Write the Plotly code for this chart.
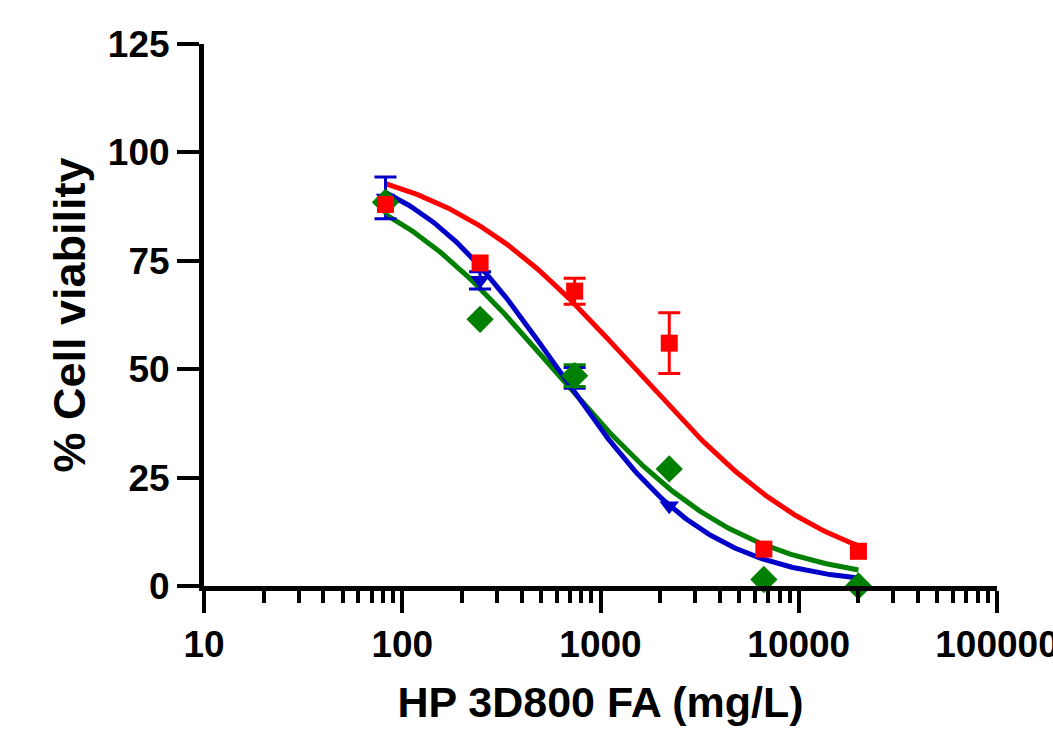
import numpy as np
import plotly.graph_objects as go

# Concentrations (mg/L), 3-fold dilution series
conc = [82.3, 246.9, 740.7, 2222.2, 6666.7, 20000]

# Mean % viability per series (error bars smaller than the symbol are not drawn)
red_y = [88.0, 74.5, 68.0, 56.0, 8.5, 8.0]
red_err = [0.0, 0.0, 3.0, 7.0, 0.0, 0.0]
blue_y = [89.5, 70.5, 48.0, 18.5, 1.0, 0.0]
blue_err = [4.8, 2.0, 2.4, 0.0, 0.0, 0.0]
green_y = [88.5, 61.5, 48.5, 27.0, 1.5, 0.0]
green_err = [0.0, 0.0, 2.5, 0.0, 0.0, 0.0]

# 4-parameter logistic fit parameters: top, bottom, IC50, Hill slope
red_fit = (100.0, 0.0, 1500.0, 0.88)
blue_fit = (100.0, 0.0, 610.0, 1.14)
green_fit = (100.0, 0.0, 578.0, 0.92)

x_ticks = [10, 100, 1000, 10000, 100000]
x_tick_text = ["10", "100", "1000", "10000", "100000"]
y_ticks = [0, 25, 50, 75, 100, 125]

RED = "#FF0000"
BLUE = "#0000C8"
GREEN = "#008000"
FONT = "Liberation Sans, Arial, sans-serif"


def logistic(x, p):
    top, bottom, ic50, h = p
    return bottom + (top - bottom) / (1 + (x / ic50) ** h)


xfit = np.logspace(np.log10(conc[0]), np.log10(conc[-1]), 200)

fig = go.Figure()
for p, col in [(red_fit, RED), (green_fit, GREEN), (blue_fit, BLUE)]:
    fig.add_trace(go.Scatter(x=xfit, y=logistic(xfit, p), mode="lines",
                             line=dict(color=col, width=5), cliponaxis=False,
                             hoverinfo="skip"))

series = [
    (blue_y, blue_err, BLUE, "triangle-down", 17),
    (green_y, green_err, GREEN, "diamond", 21),
    (red_y, red_err, RED, "square", 17),
]
for ys, es, col, sym, sz in series:
    # only the points whose error bar is larger than the symbol get one
    ex = [x for x, e in zip(conc, es) if e > 0]
    ey = [y for y, e in zip(ys, es) if e > 0]
    ee = [e for e in es if e > 0]
    fig.add_trace(go.Scatter(
        x=ex, y=ey, mode="markers", cliponaxis=False, hoverinfo="skip",
        marker=dict(color=col, symbol=sym, size=sz, opacity=0,
                    line=dict(width=0)),
        error_y=dict(type="data", array=ee, visible=True, color=col,
                     thickness=3, width=11),
    ))
    fig.add_trace(go.Scatter(
        x=conc, y=ys, mode="markers", cliponaxis=False,
        marker=dict(color=col, symbol=sym, size=sz, line=dict(width=0)),
    ))

minor_vals = [m * 10 ** d for d in range(1, 5) for m in range(2, 10)]

fig.update_layout(
    width=1053, height=733,
    margin=dict(l=204, r=56, t=44, b=147),
    paper_bgcolor="white", plot_bgcolor="white",
    showlegend=False,
    font=dict(family=FONT, color="black"),
    xaxis=dict(
        type="log", range=[1, 5], automargin=False,
        tickmode="array", tickvals=x_ticks, ticktext=x_tick_text,
        ticklabeloverflow="allow",
        ticks="outside", ticklen=22, tickwidth=4, tickcolor="black",
        tickfont=dict(size=37, family=FONT, weight="bold"),
        showline=True, linewidth=5, linecolor="black",
        showgrid=False, zeroline=False,
        minor=dict(tickmode="array", tickvals=minor_vals, ticks="outside",
                   ticklen=12, tickwidth=4, tickcolor="black", showgrid=False),
        title=dict(text="HP 3D800 FA (mg/L)",
                   font=dict(size=43, family=FONT, weight="bold"), standoff=24),
    ),
    yaxis=dict(
        range=[0, 125], tickvals=y_ticks, automargin=False,
        ticks="outside", ticklen=22, tickwidth=4, tickcolor="black",
        tickfont=dict(size=37, family=FONT, weight="bold"),
        showline=True, linewidth=5, linecolor="black",
        showgrid=False, zeroline=False,
        title=dict(text="% Cell viability",
                   font=dict(size=45, family=FONT, weight="bold"), standoff=10),
    ),
)

fig.write_html("out.html",
               config={"displayModeBar": False},
               post_script="document.body.style.margin='0';"
                           "document.body.style.overflow='hidden';")
